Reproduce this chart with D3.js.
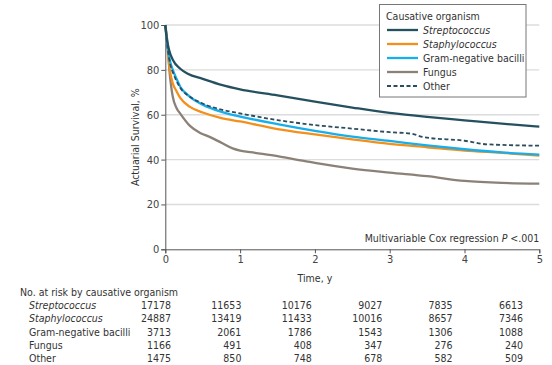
<!DOCTYPE html>
<html>
<head>
<meta charset="utf-8">
<script src="https://cdn.jsdelivr.net/npm/d3@7"></script>
<style>
  body { margin: 0; background: #fff; }
  svg text { font-family: "DejaVu Sans Condensed", "Liberation Sans Narrow", sans-serif; fill: #333; }
</style>
</head>
<body>
<svg id="chart" width="552" height="365"></svg>
<script>
// Survival (%) over time (years) by causative organism
const streptococcus = [[0,100],[0.02,94],[0.05,89],[0.1,84.5],[0.2,80.5],[0.3,78.3],[0.5,76],[0.75,73.3],[1,71.3],[1.5,68.6],[2,65.8],[2.5,63.2],[3,60.8],[3.5,59],[4,57.5],[4.5,56],[5,54.7]];
const staphylococcus = [[0,100],[0.02,93],[0.06,80],[0.1,74],[0.15,70.5],[0.2,67.5],[0.33,63.5],[0.5,61],[0.75,58.5],[1,57],[1.5,53.6],[2,51.2],[2.5,49],[3,47],[3.5,45.5],[4,44],[4.5,43],[5,41.8]];
const gramNegative = [[0,100],[0.03,90],[0.07,83],[0.1,80],[0.15,76],[0.2,72.5],[0.33,68],[0.5,64.5],[0.75,61.3],[1,59.2],[1.5,55.8],[2,52.8],[2.5,50.2],[3,48.3],[3.5,46.3],[4,44.6],[4.5,43.2],[5,42.2]];
const fungus = [[0,100],[0.02,95],[0.06,78],[0.1,68],[0.15,63],[0.2,60.5],[0.33,55],[0.46,52],[0.6,50],[0.75,47.5],[0.9,45],[1,44],[1.2,43],[1.5,41.5],[1.75,40],[2,38.5],[2.5,36],[3,34.2],[3.5,32.6],[4,30.5],[4.5,29.6],[5,29.3]];
const other = [[0,100],[0.03,90],[0.07,82],[0.1,79],[0.15,75],[0.2,72],[0.33,68],[0.5,65],[0.75,62.3],[1,60.6],[1.5,57.6],[2,55.4],[2.5,53.8],[3,52.2],[3.3,51.5],[3.45,50],[4,48.4],[4.3,46.8],[5,46.2]];

const seriesNames = ["Streptococcus", "Staphylococcus", "Gram-negative bacilli", "Fungus", "Other"];
const italicNames = [true, true, false, false, false];

const xTicks = [0, 1, 2, 3, 4, 5];
const yTicks = [0, 20, 40, 60, 80, 100];

// Number at risk at each yearly tick
const riskStreptococcus = [17178, 11653, 10176, 9027, 7835, 6613];
const riskStaphylococcus = [24887, 13419, 11433, 10016, 8657, 7346];
const riskGramNegative = [3713, 2061, 1786, 1543, 1306, 1088];
const riskFungus = [1166, 491, 408, 347, 276, 240];
const riskOther = [1475, 850, 748, 678, 582, 509];

const curves = [streptococcus, staphylococcus, gramNegative, fungus, other];
const risks = [riskStreptococcus, riskStaphylococcus, riskGramNegative, riskFungus, riskOther];
const colors = ["#25505f", "#f3901c", "#17aee9", "#8b8177", "#2b4d5f"];
const dashes = [null, null, null, null, "4,2.5"];

const FS = 10.5;
const svg = d3.select("#chart");
const x = d3.scaleLinear().domain([0, 5]).range([165.3, 539.3]);
const y = d3.scaleLinear().domain([0, 100]).range([249.3, 25]);

// Grid lines
svg.append("g").selectAll("line").data(yTicks.filter(d => d > 0)).join("line")
  .attr("x1", x(0)).attr("x2", x(5)).attr("y1", d => y(d)).attr("y2", d => y(d))
  .attr("stroke", "#dcdcdc").attr("stroke-width", 1.4);

// Axes
const yAxis = svg.append("g").attr("transform", `translate(${x(0)},0)`)
  .call(d3.axisLeft(y).tickValues(yTicks).tickFormat(d3.format("d")).tickSize(4).tickPadding(2));
const xAxis = svg.append("g").attr("transform", `translate(0,${y(0)})`)
  .call(d3.axisBottom(x).tickValues(xTicks).tickFormat(d3.format("d")).tickSize(4).tickPadding(2));
[yAxis, xAxis].forEach(a => {
  a.select(".domain").attr("stroke", "#555").attr("stroke-width", 1);
  a.selectAll(".tick line").attr("stroke", "#555");
  a.selectAll(".tick text").attr("font-size", 11).style("fill", "#444")
    .attr("font-family", "'DejaVu Sans Condensed', sans-serif");
});

// Survival curves (fungus underneath, streptococcus on top)
const line = d3.line().x(d => x(d[0])).y(d => y(d[1])).curve(d3.curveMonotoneX);
const order = [3, 1, 2, 4, 0];
svg.append("g").selectAll("path").data(order).join("path")
  .attr("d", i => line(curves[i]))
  .attr("fill", "none")
  .attr("stroke", i => colors[i])
  .attr("stroke-width", i => i === 4 ? 1.8 : 2.3)
  .attr("stroke-dasharray", i => dashes[i]);

// Legend
const lg = svg.append("g");
lg.append("rect").attr("x", 379.5).attr("y", 4.5).attr("width", 146.5).attr("height", 92.5)
  .attr("fill", "#fff").attr("stroke", "#777").attr("stroke-width", 1);
lg.append("text").attr("x", 386).attr("y", 20).attr("font-size", FS).text("Causative organism");
seriesNames.forEach((name, i) => {
  const ly = 30 + i * 14;
  lg.append("line").attr("x1", 387).attr("x2", 418).attr("y1", ly).attr("y2", ly)
    .attr("stroke", colors[i]).attr("stroke-width", i === 4 ? 1.8 : 2.3)
    .attr("stroke-dasharray", dashes[i]);
  lg.append("text").attr("x", 423).attr("y", ly + 4).attr("font-size", FS)
    .attr("font-style", italicNames[i] ? "italic" : "normal").text(name);
});

// Model annotation
const note = svg.append("text").attr("x", x(5)).attr("y", 242).attr("text-anchor", "end").attr("font-size", FS);
note.append("tspan").text("Multivariable Cox regression ");
note.append("tspan").attr("font-style", "italic").text("P");
note.append("tspan").text(" <.001");

// Axis titles
svg.append("text").attr("x", x(2)).attr("y", 282).attr("text-anchor", "middle").attr("font-size", FS).text("Time, y");
svg.append("text").attr("transform", `translate(139,${y(50)}) rotate(-90)`).attr("text-anchor", "middle")
  .attr("font-size", FS).text("Actuarial Survival, %");

// Number-at-risk table
svg.append("text").attr("x", 20).attr("y", 295.5).attr("font-size", FS).text("No. at risk by causative organism");
const colX = d3.scaleLinear().domain([0, 5]).range([171, 523]);
seriesNames.forEach((name, i) => {
  const ry = 308.8 + i * 13.4;
  svg.append("text").attr("x", 29).attr("y", ry).attr("font-size", FS)
    .attr("font-style", italicNames[i] ? "italic" : "normal").text(name);
  svg.append("g").selectAll("text").data(risks[i]).join("text")
    .attr("x", (d, j) => colX(xTicks[j])).attr("y", ry).attr("text-anchor", "end")
    .attr("font-size", FS).text(d => d);
});
</script>
</body>
</html>
